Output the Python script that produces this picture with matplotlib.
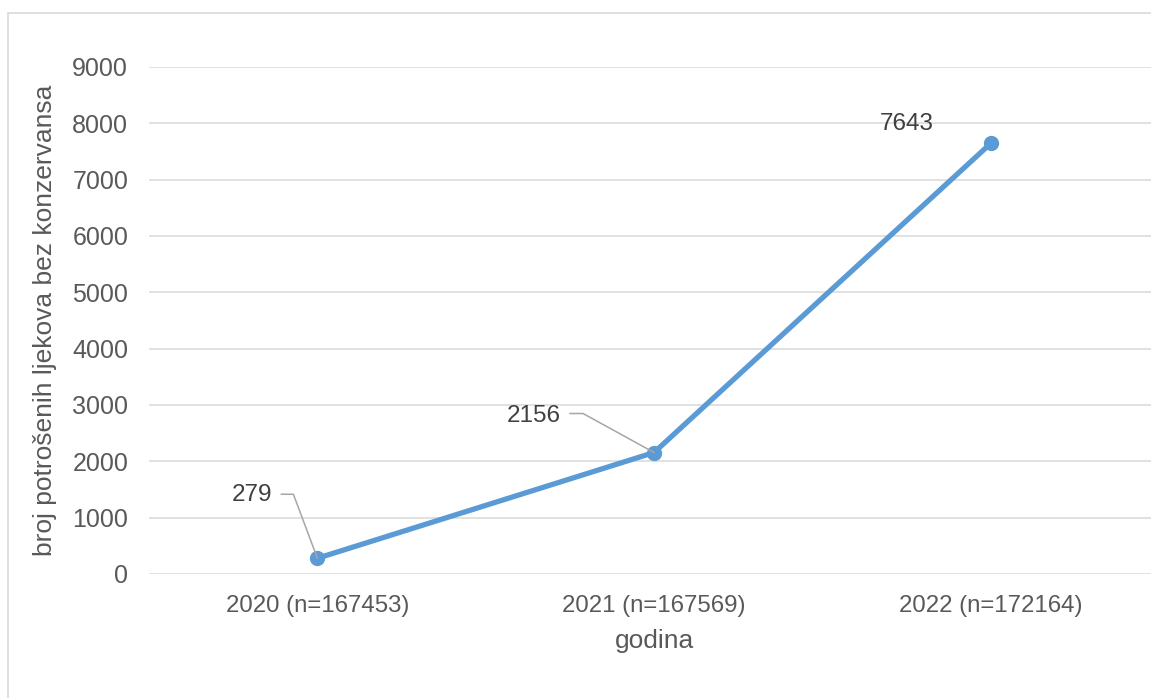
import matplotlib.pyplot as plt
from matplotlib.lines import Line2D
from matplotlib.patches import Rectangle
from matplotlib.transforms import IdentityTransform

plt.rcParams['font.family'] = ['Liberation Sans', 'DejaVu Sans']

# data
categories = ["2020 (n=167453)", "2021 (n=167569)", "2022 (n=172164)"]
values = [279, 2156, 7643]
y_ticks = [0, 1000, 2000, 3000, 4000, 5000, 6000, 7000, 8000, 9000]

fig = plt.figure(figsize=(11.51, 6.98), dpi=100)
ax = fig.add_axes([0.1295, 0.1777, 0.8775, 0.7264])

# outer chart border (cut at right/bottom like the reference)
fig.add_artist(Rectangle((0.007, -0.05), 1.1, 0.9814 + 0.05, transform=fig.transFigure,
                         fill=False, edgecolor='#D9D9D9', linewidth=1.2))

x = list(range(len(categories)))
ax.plot(x, values, color='#5B9BD5', linewidth=3.8, marker='o', markersize=10,
        solid_capstyle='round', zorder=3)

ax.set_xlim(-0.5, len(categories) - 0.5)
ax.set_ylim(0, 9000)
ax.set_yticks(y_ticks)
ax.set_xticks(x)
ax.set_xticklabels(categories)
ax.yaxis.grid(True, color='#D9D9D9', linewidth=1.1)
ax.set_axisbelow(True)
for s in ax.spines.values():
    s.set_visible(False)
ax.tick_params(axis='both', length=0, labelcolor='#595959')
ax.tick_params(axis='y', pad=15, labelsize=18)
ax.tick_params(axis='x', pad=15, labelsize=17.3)

ax.set_ylabel("broj potrošenih ljekova bez konzervansa", fontsize=19, color='#595959', labelpad=11)
ax.set_xlabel("godina", fontsize=19, color='#595959', labelpad=9)

# data labels with leader lines (offsets in pixels)
fig.canvas.draw()
label_offsets = [(-45, 63, 'right'), (-93, 37, 'right'), (-84, 19, 'center')]
leaders = [[(-36, 64), (-24, 64)], [(-84, 39), (-71, 39)], None]
for i, v in enumerate(values):
    px, py = ax.transData.transform((i, v))
    dx, dy, ha = label_offsets[i]
    fig.text(px + dx, py + dy, str(v), transform=IdentityTransform(), ha=ha, va='center',
             fontsize=17.5, color='#404040')
    if leaders[i] is not None:
        (ex, ey), (cx, cy) = leaders[i]
        fig.add_artist(Line2D([px + ex, px + cx, px], [py + ey, py + cy, py],
                              transform=IdentityTransform(), color='#A6A6A6', linewidth=1.1, zorder=2))

fig.savefig('out.png', dpi=100)
